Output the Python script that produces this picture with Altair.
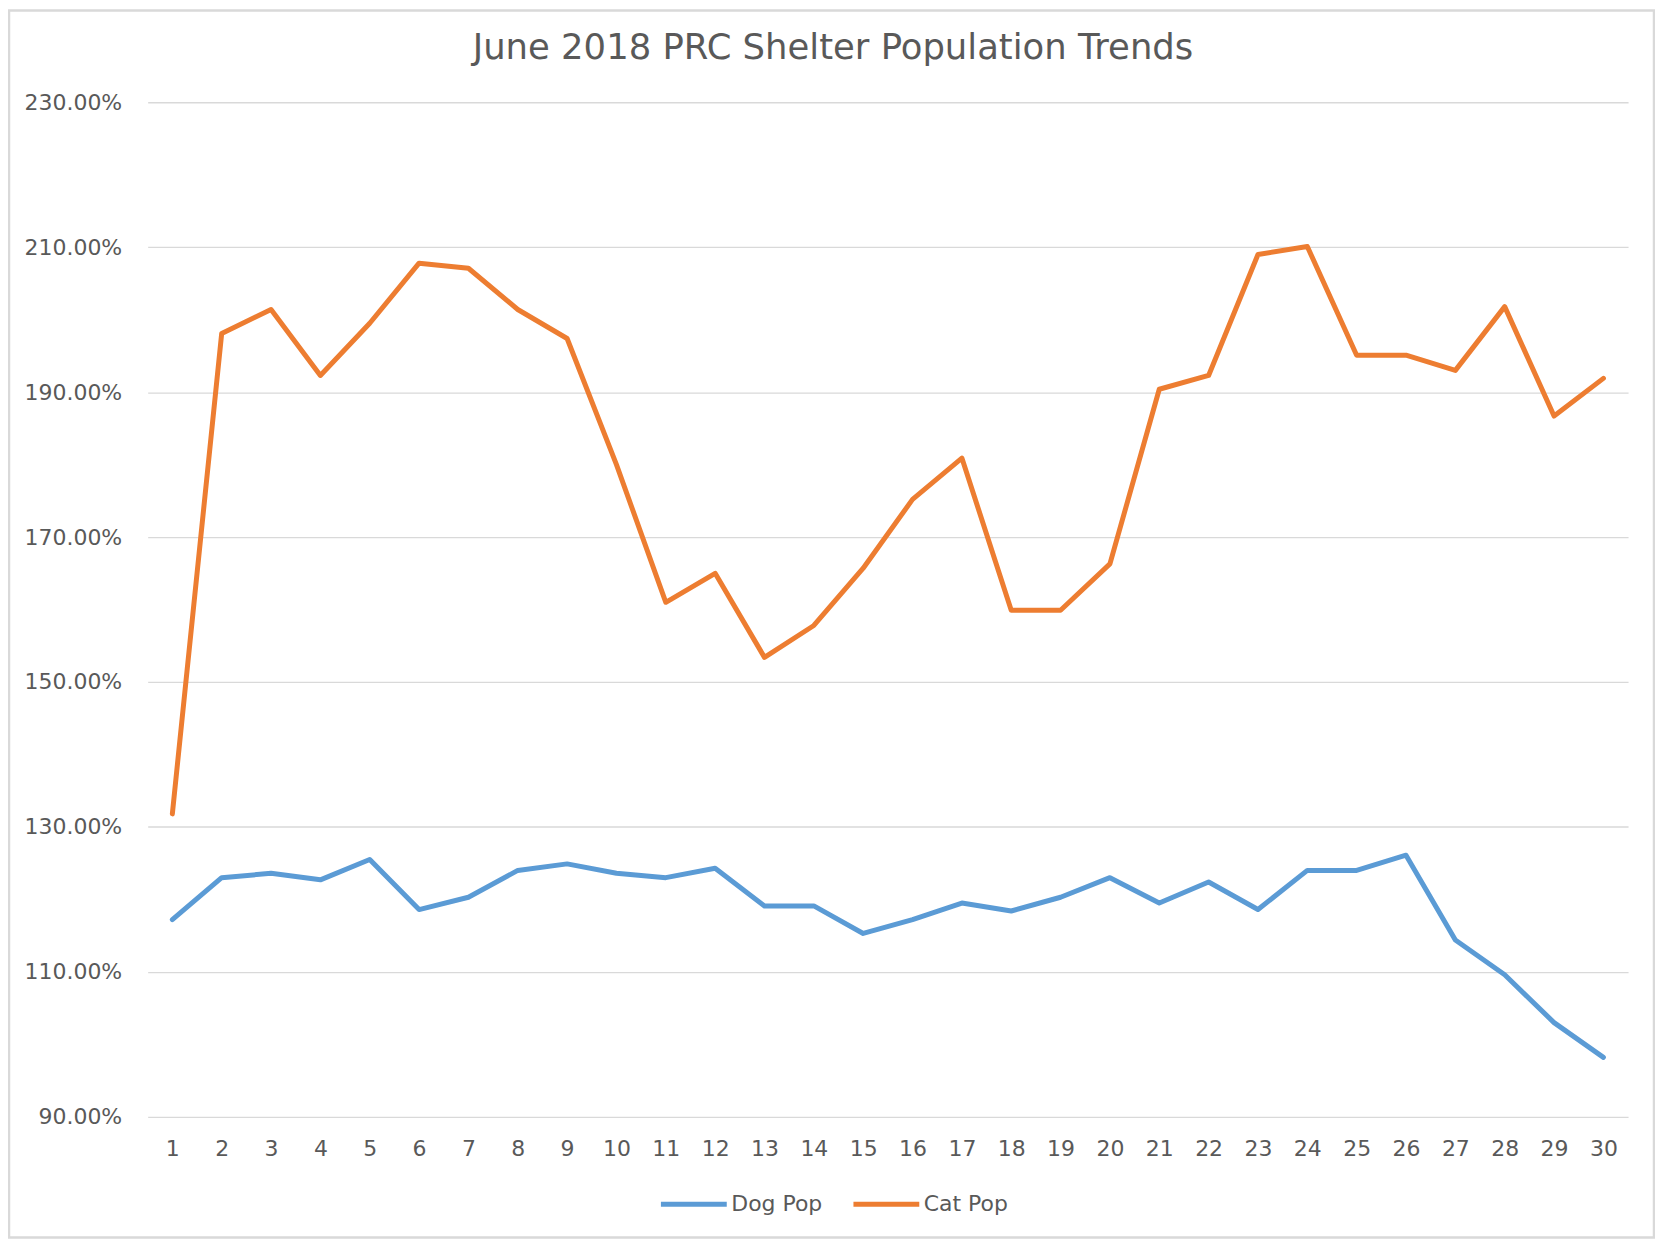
import altair as alt
import pandas as pd

days = list(range(1, 31))
dog_pop = [117.2, 123.0, 123.6, 122.7, 125.5, 118.6, 120.3, 124.0, 124.9, 123.6,
           123.0, 124.3, 119.1, 119.1, 115.3, 117.2, 119.5, 118.4, 120.3, 123.0,
           119.5, 122.4, 118.6, 124.0, 124.0, 126.1, 114.4, 109.6, 103.0, 98.2]
cat_pop = [131.8, 198.1, 201.4, 192.3, 199.5, 207.8, 207.1, 201.4, 197.4, 180.0,
           161.0, 165.0, 153.4, 157.8, 165.7, 175.2, 180.9, 159.9, 159.9, 166.3,
           190.4, 192.3, 209.0, 210.1, 195.1, 195.1, 193.0, 201.8, 186.7, 191.9]
series = ["Dog Pop", "Cat Pop"]
colors = ["#5B9BD5", "#ED7D31"]
y_ticks = [90, 110, 130, 150, 170, 190, 210, 230]
title_text = "June 2018 PRC Shelter Population Trends"

df = pd.concat([
    pd.DataFrame({"day": days, "value": dog_pop, "series": "Dog Pop"}),
    pd.DataFrame({"day": days, "value": cat_pop, "series": "Cat Pop"}),
])

FONT = "DejaVu Sans"
GRAY = "#595959"
W, H = 1484, 1017

lines = alt.Chart(df).mark_line(strokeWidth=5, strokeJoin="round", strokeCap="round").encode(
    x=alt.X("day:O", sort=days, scale=alt.Scale(paddingInner=0, paddingOuter=0.5),
            axis=alt.Axis(title=None, labelAngle=0, labelFontSize=22, labelColor=GRAY,
                          labelFont=FONT, labelPadding=22, domain=False, ticks=False, grid=False)),
    y=alt.Y("value:Q", scale=alt.Scale(domain=[90, 230], nice=False, zero=False),
            axis=alt.Axis(title=None, values=y_ticks, labelExpr="format(datum.value, '.2f') + '%'",
                          labelFontSize=22, labelColor=GRAY, labelFont=FONT, labelPadding=26,
                          domain=False, ticks=False, grid=True, gridColor="#d9d9d9", gridWidth=1.3)),
    color=alt.Color("series:N", sort=series,
                    scale=alt.Scale(domain=series, range=colors),
                    legend=alt.Legend(title=None, orient="none", direction="horizontal",
                                      legendX=512, legendY=H + 52,
                                      symbolType="stroke", symbolSize=4356, symbolStrokeWidth=5,
                                      labelFontSize=22, labelColor=GRAY, labelFont=FONT,
                                      labelOffset=2, columnPadding=20)),
    detail="series:N",
)

title = alt.Chart(pd.DataFrame({"t": [title_text]})).mark_text(
    fontSize=35.5, font=FONT, color=GRAY, align="center", baseline="middle"
).encode(text="t:N", x=alt.value(687), y=alt.value(-54))

border = alt.Chart(pd.DataFrame({"a": [0]})).mark_rect(
    fillOpacity=0, stroke="#d9d9d9", strokeWidth=2.5
).encode(x=alt.value(-139), x2=alt.value(W + 26), y=alt.value(-92), y2=alt.value(H + 121))

chart = alt.layer(border, lines, title).properties(
    width=W, height=H,
    autosize=alt.AutoSizeParams(type="none"),
    padding={"left": 140, "top": 93, "right": 27, "bottom": 123},
).configure_view(stroke=None)

chart.save("out.html", embed_options={"renderer": "svg", "actions": False})
